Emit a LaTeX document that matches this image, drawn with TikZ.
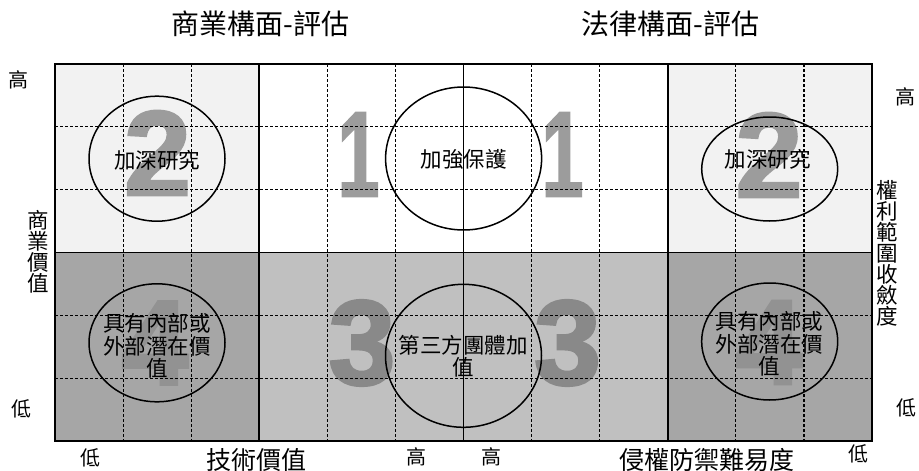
\documentclass[tikz,border=0pt]{standalone}
\usepackage{fontspec}
\setmainfont{Liberation Sans}
\newfontfamily\cjk{Noto Sans CJK TC}
\newfontfamily\numfont[FakeBold=2.5]{Liberation Sans Bold}
\usetikzlibrary{shapes.geometric}
\definecolor{lightq}{HTML}{F2F2F2}
\definecolor{darkq}{HTML}{A6A6A6}
\definecolor{midq}{HTML}{C0C0C0}
\definecolor{numtop}{HTML}{9C9C9C}
\definecolor{numthree}{HTML}{898989}
\definecolor{numfour}{HTML}{929292}
\begin{document}
\begin{tikzpicture}[x=1pt,y=-1pt,
  gridline/.style={line width=1.2pt, dash pattern=on 3pt off 2pt},
  solidline/.style={line width=1.7pt},
  oval/.style={ellipse, draw, line width=1.5pt, inner sep=0pt},
  bignum/.style={font=\numfont\fontsize{120}{120}\selectfont, inner sep=0pt},
  narrownum/.style={bignum, xscale=0.62, transform shape},
  ctext/.style={font=\cjk\fontsize{21.5}{22.5}\selectfont, align=center, inner sep=0pt},
  axlabel/.style={font=\cjk\fontsize{20}{20}\selectfont, inner sep=0pt},
  axtitle/.style={font=\cjk\fontsize{25}{25}\selectfont, inner sep=0pt},
  vtitle/.style={font=\cjk\fontsize{21.5}{21}\selectfont, align=center, inner sep=0pt},
  headtitle/.style={font=\cjk\fontsize{28}{28}\selectfont, inner sep=0pt},
]
\useasboundingbox (0,0) rectangle (919,471);
\fill[white] (0,0) rectangle (919,471);
% quadrant fills
\fill[lightq] (55,64) rectangle (259.3,252.5);
\fill[lightq] (667.7,64) rectangle (872.2,252.5);
\fill[darkq] (55,252.5) rectangle (259.3,441);
\fill[midq] (259.3,252.5) rectangle (667.7,441);
\fill[darkq] (667.7,252.5) rectangle (872.2,441);
% big numbers
\node[bignum, text=numtop] (n2a) at (157.5,153) {2};
\node[bignum, text=numtop] (n2b) at (769,155) {2};
\node[narrownum, text=numtop] (n1a) at (358.5,154.5) {1};
\node[narrownum, text=numtop] (n1b) at (562.5,154.5) {1};
\node[bignum, text=numthree] (n3a) at (362,343) {3};
\node[bignum, text=numthree] (n3b) at (567.5,343) {3};
\node[bignum, text=numfour] (n4a) at (155,343) {4};
\node[bignum, text=numfour] (n4b) at (769,342.5) {4};
% dashed grid
\foreach \x in {123.1,191.2,327.4,395.5,531.6,599.7,735.8,803.9}
  \draw[gridline] (\x,64) -- (\x,441);
\foreach \y in {126.8,189.7,315.3,378.2}
  \draw[gridline] (55,\y) -- (872.2,\y);
% solid lines
\draw[solidline] (259.3,64) -- (259.3,441);
\draw[solidline] (463.5,64) -- (463.5,441);
\draw[solidline] (667.7,64) -- (667.7,441);
\draw[solidline] (55,252.5) -- (872.2,252.5);
\draw[line width=1.8pt] (55,64) rectangle (872.2,441);
% ellipses
\node[oval, minimum width=136pt, minimum height=125pt] (e1) at (157,158.7) {};
\node[oval, minimum width=156pt, minimum height=143pt] (e2) at (463.6,158.5) {};
\node[oval, minimum width=136pt, minimum height=104pt] (e3) at (769.7,169) {};
\node[oval, minimum width=136pt, minimum height=118pt] (e4) at (157,342.8) {};
\node[oval, minimum width=156pt, minimum height=143pt] (e5) at (463.5,355.8) {};
\node[oval, minimum width=136pt, minimum height=117pt] (e6) at (769.7,341.5) {};
% circle texts
\node[ctext] (t1) at (157,160) {加深研究};
\node[ctext] (t2) at (463.5,159) {加強保護};
\node[ctext] (t3) at (767.5,159) {加深研究};
\node[ctext] (t4) at (157,346) {具有內部或\\外部潛在價\\值};
\node[ctext] (t5) at (463,356) {第三方團體加\\值};
\node[ctext] (t6) at (769.7,344) {具有內部或\\外部潛在價\\值};
% axis labels
\node[axlabel] (hl) at (19,80) {高};
\node[axlabel] (ll) at (21.7,409) {低};
\node[axlabel] (hr) at (905,97) {高};
\node[axlabel] (lr) at (906,408) {低};
\node[axlabel] (lb1) at (90,458) {低};
\node[axlabel] (hb1) at (416,457) {高};
\node[axlabel] (hb2) at (491,457) {高};
\node[axlabel] (lb2) at (858,454) {低};
\node[axtitle] (xt1) at (256.5,460) {技術價值};
\node[axtitle] (xt2) at (706.5,460) {侵權防禦難易度};
\node[vtitle] (yt1) at (38,251.7) {商\\業\\價\\值};
\node[vtitle] (yt2) at (887,253.2) {權\\利\\範\\圍\\收\\斂\\度};
% headings
\node[headtitle] (h1) at (260.5,24) {商業構面-評估};
\node[headtitle] (h2) at (670.5,24) {法律構面-評估};
\end{tikzpicture}
\end{document}
